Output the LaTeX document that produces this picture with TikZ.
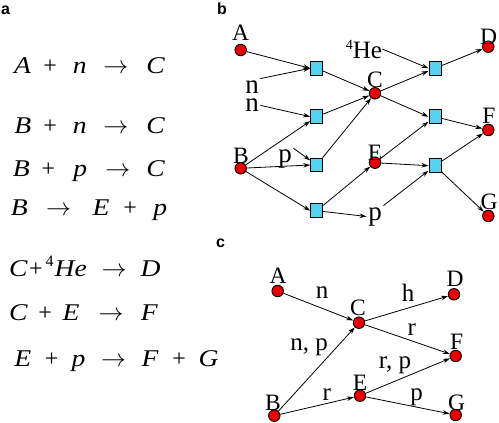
\documentclass[tikz,border=0pt]{standalone}
\usepackage{fontspec}
\setmainfont{Liberation Serif}
\newfontfamily\panelfont{Liberation Sans}
\usetikzlibrary{arrows.meta}
\definecolor{boxcyan}{RGB}{84,210,240}
\definecolor{dotred}{RGB}{232,0,0}
\newcommand\zt[1]{\makebox[0pt][c]{#1}}
\newcommand\wi[1]{\scalebox{1.15}[1]{\textit{#1}}}
\begin{document}
\begin{tikzpicture}[x=1pt,y=-1pt,
  dot/.style={circle,draw=black,fill=dotred,line width=0.9pt,minimum size=11.5pt,inner sep=0pt},
  rbox/.style={rectangle,draw=black,fill=boxcyan,line width=1pt,minimum width=12pt,minimum height=13.5pt,inner sep=0pt},
  spl/.style={anchor=base,inner sep=0pt,font=\fontsize{23.5}{24}\selectfont},
  low/.style={anchor=base,inner sep=1.5pt,font=\fontsize{27}{27}\selectfont},
  elab/.style={anchor=base,inner sep=0pt,font=\fontsize{25}{25}\selectfont},
  eqn/.style={anchor=base west,inner sep=0pt,font=\fontsize{24}{24}\selectfont},
  plab/.style={anchor=base west,inner sep=0pt,font=\panelfont\bfseries\fontsize{16}{16}\selectfont},
  arr/.style={-{Stealth[length=7pt,width=4.5pt]},line width=0.8pt},
]
\useasboundingbox (0,0) rectangle (499,423);

% panel letters
\node[plab] (pa) at (1,15) {a};
\node[plab] (pb) at (217,15) {b};
\node[plab] (pc) at (216,247) {c};

% panel a: equations
\node[eqn] (e1) at (22.5,74) {\zt{\wi{A}}\hspace{27.5pt}\zt{+}\hspace{29.5pt}\zt{\wi{n}}\hspace{36pt}\zt{$\rightarrow$}\hspace{40pt}\zt{\wi{C}}};
\node[eqn] (e2) at (22.5,133) {\zt{\wi{B}}\hspace{27.5pt}\zt{+}\hspace{29.5pt}\zt{\wi{n}}\hspace{36pt}\zt{$\rightarrow$}\hspace{40pt}\zt{\wi{C}}};
\node[eqn] (e3) at (21,176.7) {\zt{\wi{B}}\hspace{27.3pt}\zt{+}\hspace{31.7pt}\zt{\wi{p}}\hspace{37.5pt}\zt{$\rightarrow$}\hspace{38pt}\zt{\wi{C}}};
\node[eqn] (e4) at (19,215) {\zt{\wi{B}}\hspace{39.3pt}\zt{$\rightarrow$}\hspace{42.5pt}\zt{\wi{E}}\hspace{29.2pt}\zt{+}\hspace{30pt}\zt{\wi{p}}};
\node[eqn] (e5) at (18.3,276.7) {\zt{\wi{C}}\hspace{17.5pt}\zt{+}\hspace{13.7pt}\zt{\raisebox{10pt}{\fontsize{16}{16}\selectfont 4}}\hspace{21pt}\zt{\wi{He}}\hspace{43.3pt}\zt{$\rightarrow$}\hspace{36.7pt}\zt{\wi{D}}};
\node[eqn] (e6) at (18.3,320) {\zt{\wi{C}}\hspace{26.7pt}\zt{+}\hspace{25.8pt}\zt{\wi{E}}\hspace{40pt}\zt{$\rightarrow$}\hspace{38.4pt}\zt{\wi{F}}};
\node[eqn] (e7) at (22.5,366.7) {\zt{\wi{E}}\hspace{29pt}\zt{+}\hspace{26.8pt}\zt{\wi{p}}\hspace{35pt}\zt{$\rightarrow$}\hspace{36.7pt}\zt{\wi{F}}\hspace{29pt}\zt{+}\hspace{29.3pt}\zt{\wi{G}}};

% panel b: species
\node[dot] (bA) at (240.7,50) {};
\node[dot] (bB) at (240.7,168.3) {};
\node[dot] (bC) at (375,93.3) {};
\node[dot] (bE) at (375,162.7) {};
\node[dot] (bD) at (488.3,46.7) {};
\node[dot] (bF) at (488.3,130) {};
\node[dot] (bG) at (488.3,216) {};
\node[spl] (lbA) at (240.5,41) {A};
\node[spl] (lbB) at (241,163) {B};
\node[spl] (lbC) at (375,87) {C};
\node[spl] (lbE) at (375,160) {E};
\node[spl] (lbD) at (488.5,45) {D};
\node[spl] (lbF) at (489,123) {F};
\node[spl] (lbG) at (489,209) {G};
% reaction boxes
\node[rbox] (r1) at (316.7,68.3) {};
\node[rbox] (r2) at (316.7,116.7) {};
\node[rbox] (r3) at (316.7,165) {};
\node[rbox] (r5) at (316.7,210.7) {};
\node[rbox] (rT) at (435,68.3) {};
\node[rbox] (rM) at (435,116.7) {};
\node[rbox] (r4) at (435,165.7) {};
% free particles
\node[low] (n1) at (252,93) {n};
\node[low] (n2) at (252,111.7) {n};
\node[low] (p1) at (285,162.7) {p};
\node[low] (p2) at (375,220) {p};
\node[elab] (he) at (364,58) {\raisebox{9pt}{\fontsize{14}{14}\selectfont 4}He};

\draw[arr] (bA) -- (r1.west);
\draw[arr] (n1.north east) -- (r1.west);
\draw[arr] (r1) -- (bC);
\draw[arr] (n2.east) -- (r2.west);
\draw[arr] (bB) -- (r2);
\draw[arr] (r2) -- (bC);
\draw[arr] (bB) -- (r3.west);
\draw[arr] (p1.north east) -- (r3);
\draw[arr] (r3) -- (bC);
\draw[arr] (bB) -- (r5.west);
\draw[arr] (r5) -- (bE);
\draw[arr] (r5) -- (p2.west);
\draw[arr] (p2.north east) -- (r4);
\draw[arr] (bE) -- (r4.west);
\draw[arr] (bE) -- (rM);
\draw[arr] (bC) -- (rM.west);
\draw[arr] (bC) -- (rT);
\draw[arr] (he.east) -- (rT.west);
\draw[arr] (rT) -- (bD);
\draw[arr] (rM) -- (bF);
\draw[arr] (r4) -- (bF);
\draw[arr] (r4) -- (bG);

% panel c
\node[dot] (cA) at (277.7,291) {};
\node[dot] (cC) at (359,322.7) {};
\node[dot] (cD) at (454,294.3) {};
\node[dot] (cF) at (455.7,356) {};
\node[dot] (cE) at (360,395.7) {};
\node[dot] (cB) at (274.3,415.7) {};
\node[dot] (cG) at (455.7,415) {};
\node[spl] (lcA) at (278,283.3) {A};
\node[spl] (lcC) at (358,315) {C};
\node[spl] (lcD) at (455,286.7) {D};
\node[spl] (lcF) at (456.7,349) {F};
\node[spl] (lcE) at (360,390) {E};
\node[spl] (lcB) at (273,410) {B};
\node[spl] (lcG) at (456.7,410) {G};
\draw[arr] (cA) -- (cC);
\draw[arr] (cC) -- (cD);
\draw[arr] (cC) -- (cF);
\draw[arr] (cB) -- (cC);
\draw[arr] (cB) -- (cE);
\draw[arr] (cE) -- (cF);
\draw[arr] (cE) -- (cG);
\node[elab] (ln) at (322,298) {n};
\node[elab] (lh) at (408,301.7) {h};
\node[elab] (lr1) at (411.7,335) {r};
\node[elab] (lnp) at (309,350) {n, p};
\node[elab] (lrp) at (395,368.3) {r, p};
\node[elab] (lr2) at (326.7,400) {r};
\node[elab] (lp) at (416.7,400) {p};
\end{tikzpicture}
\end{document}
